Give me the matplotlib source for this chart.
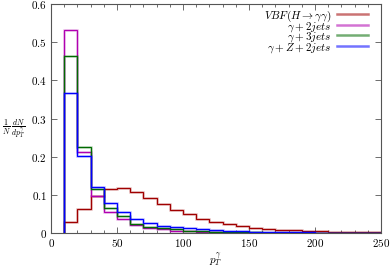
import matplotlib
matplotlib.use("Agg")
import matplotlib.pyplot as plt
import numpy as np
from matplotlib.ticker import MultipleLocator, FuncFormatter
from matplotlib.lines import Line2D

plt.rcParams['mathtext.fontset'] = 'cm'
plt.rcParams['font.family'] = 'DejaVu Serif'

bin_edges = [10, 20, 30, 40, 50, 60, 70, 80, 90, 100, 110, 120, 130, 140, 150,
             160, 170, 180, 190, 200, 210, 220, 230, 240, 250]

vbf = [0.028, 0.064, 0.098, 0.115, 0.118, 0.107, 0.093, 0.076, 0.061, 0.049,
       0.038, 0.029, 0.023, 0.0175, 0.014, 0.0105, 0.009, 0.007, 0.0055, 0.0045,
       0.0035, 0.003, 0.0025, 0.002]
g2j = [0.533, 0.212, 0.098, 0.055, 0.036, 0.020, 0.014, 0.0095, 0.006, 0.0045,
       0.0035, 0.0025, 0.002, 0.0015, 0.0012, 0.001, 0.0008, 0.0006, 0.0005,
       0.0004, 0.0003, 0.0003, 0.0002, 0.0002]
g3j = [0.465, 0.225, 0.116, 0.066, 0.045, 0.024, 0.017, 0.012, 0.0095, 0.006,
       0.0045, 0.0035, 0.0028, 0.002, 0.0016, 0.0013, 0.001, 0.0008, 0.0006,
       0.0005, 0.0004, 0.0003, 0.0003, 0.0002]
gz2j = [0.367, 0.203, 0.121, 0.079, 0.054, 0.037, 0.027, 0.0185, 0.016, 0.0125,
        0.0095, 0.0075, 0.006, 0.0045, 0.0038, 0.003, 0.0025, 0.002, 0.0016,
        0.0013, 0.001, 0.0008, 0.0006, 0.0005]

labels = [r'$VBF(H\rightarrow\gamma\gamma)$', r'$\gamma+2jets$',
          r'$\gamma+3jets$', r'$\gamma+Z+2jets$']
colors = ['#a00000', '#b000b0', '#006a00', '#0000ff']
series = [vbf, g2j, g3j, gz2j]

fig = plt.figure(figsize=(3.9, 2.68), dpi=100)
ax = fig.add_axes([0.131, 0.1306, 0.846, 0.854])

edges = np.array(bin_edges, dtype=float)
for vals, col in zip(series, colors):
    v = np.array(vals)
    xs = np.concatenate([[edges[0], edges[0]], np.repeat(edges[1:-1], 2), [edges[-1]]])
    ys = np.concatenate([[0], np.repeat(v, 2)])
    ax.plot(xs, ys, color=col, lw=1.9, alpha=0.22, solid_joinstyle='miter')
    ax.plot(xs, ys, color=col, lw=0.9, solid_joinstyle='miter')

ax.set_xlim(0, 250)
ax.set_ylim(0, 0.6)
ax.xaxis.set_major_locator(MultipleLocator(50))
ax.xaxis.set_minor_locator(MultipleLocator(10))
ax.yaxis.set_major_locator(MultipleLocator(0.1))

def fmt(x, pos):
    s = ('%g' % round(x, 3))
    return r'$%s$' % s
ax.xaxis.set_major_formatter(FuncFormatter(fmt))
ax.yaxis.set_major_formatter(FuncFormatter(fmt))

ax.tick_params(which='both', direction='in', top=True, right=True,
               labelsize=8, color='#555555')
ax.tick_params(which='major', length=4, width=0.6, pad=3)
ax.tick_params(which='minor', length=2, width=0.6)
for sp in ax.spines.values():
    sp.set_color('#555555')
    sp.set_linewidth(0.8)

ax.set_xlabel(r'$p_T^\gamma$', fontsize=8, labelpad=2)
fig.text(0.035, 0.52, r'$\frac{1}{N}\,\frac{dN}{dp_T^\gamma}$', fontsize=8,
         ha='center', va='center')

# legend drawn manually (right-aligned text, sample line on the right)
row_y = [0.958, 0.910, 0.864, 0.816]
x_text = 0.8485
x_l0, x_l1 = 0.867, 0.961
for lab, col, yy in zip(labels, colors, row_y):
    ax.text(x_text, yy, lab, transform=ax.transAxes, ha='right',
            va='center_baseline', fontsize=8)
    ax.add_line(Line2D([x_l0, x_l1], [yy, yy], transform=ax.transAxes,
                       color=col, lw=1.8, alpha=0.55))

fig.savefig('out.png', dpi=100)
